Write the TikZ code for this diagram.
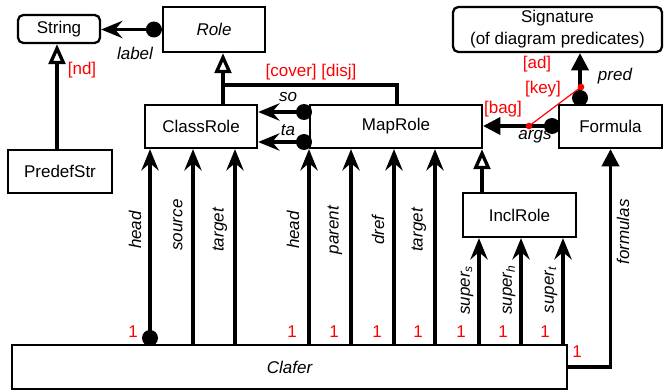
\documentclass[tikz,border=0pt]{standalone}
\usepackage{fontspec}
\setmainfont{Liberation Sans}
\usetikzlibrary{arrows.meta}
\newcommand\dfs{\fontsize{12.75}{15}\selectfont}
\begin{document}
\begin{tikzpicture}[x=0.75pt,y=-0.75pt,
  box/.style={draw, line width=1.7pt, fill=white, inner sep=0pt, font=\dfs},
  rbox/.style={box, rounded corners=4pt},
  conn/.style={line width=2.5pt},
  st/.style={conn, -{Stealth[length=16pt,width=13pt,inset=5.5pt]}},
  tri/.style={conn, -{Triangle[length=13pt,width=13pt]}},
  gen/.style={conn, -{Triangle[open,length=15pt,width=12.5pt,fill=white]}},
  lbl/.style={font=\dfs\itshape, inner sep=0pt},
  mult/.style={font=\dfs, text=red, inner sep=0pt},
  ball/.style={fill=black},
  rdot/.style={fill=red}
]
\useasboundingbox (0,0) rectangle (664,392);
% boxes
\node[rbox, minimum width=61.5pt, minimum height=21pt] (String) at (59,29) {String};
\node[box, minimum width=76.5pt, minimum height=33.75pt, font=\dfs\itshape] (Role) at (214,29.5) {Role};
\node[box, minimum width=78pt, minimum height=32.25pt] (PredefStr) at (60,171.5) {PredefStr};
\node[box, minimum width=84pt, minimum height=32.25pt] (ClassRole) at (201,126.5) {ClassRole};
\node[box, minimum width=129pt, minimum height=32.25pt] (MapRole) at (396,126.5) {MapRole};
\node[box, minimum width=77.25pt, minimum height=32.25pt] (Formula) at (610.5,126.5) {Formula};
\node[rbox, minimum width=156.75pt, minimum height=33.75pt, align=center, font={\fontsize{12.75}{16.5}\selectfont}] (Signature) at (557.5,29.5) {Signature\\(of diagram predicates)};
\node[box, minimum width=84.75pt, minimum height=33pt] (InclRole) at (519.5,215) {InclRole};
\node[box, minimum width=416.25pt, minimum height=33pt, font=\dfs\itshape] (Clafer) at (289.5,367) {Clafer};

% label
\draw[st] (Role.west) -- (Role.west -| String.east);
\fill[ball] ([xshift=-6pt]Role.west) circle (6pt);
\node[lbl] (lab) at (135,53) {label};
% PredefStr -> String
\draw[gen] (57,0 |- PredefStr.north) -- (57,0 |- String.south);
\node[mult] (nd) at (82,70) {[nd]};
% generalisation of roles
\coordinate (J) at (223,85);
\draw[conn] (397,0 |- MapRole.north) |- (J);
\draw[gen] (223,0 |- ClassRole.north) -- (223,0 |- Role.south);
\node[mult] (cd) at (311,72) {[cover] [disj]};
% so / ta
\draw[st] (310,112) -- (ClassRole.east |- 0,112);
\fill[ball] (304,112) circle (6pt);
\node[lbl] (so) at (288,97) {so};
\draw[st] (310,142) -- (ClassRole.east |- 0,142);
\fill[ball] (304,142) circle (6pt);
\node[lbl] (ta) at (288,130) {ta};
% ClassRole arrows
\foreach \x/\t/\ly in {150/head/230,193/source/225,235/target/230}{
  \draw[st] (\x,0 |- Clafer.north) -- (\x,0 |- ClassRole.south);
  \node[lbl, rotate=90] at (\x-15,\ly) {\t};
}
\fill[ball] (150,338) circle (6pt);
\node[mult] (m0) at (133,332) {1};
% MapRole arrows
\foreach \x/\t in {309/head,351/parent,394/dref,435/target}{
  \draw[st] (\x,0 |- Clafer.north) -- (\x,0 |- MapRole.south);
  \node[lbl, rotate=90] at (\x-16,230) {\t};
  \node[mult] at (\x-17,332) {1};
}
% InclRole arrows
\foreach \x/\s in {479/s,521/h,563/t}{
  \draw[st] (\x,0 |- Clafer.north) -- (\x,0 |- InclRole.south);
  \node[lbl, rotate=90] at (\x-12,290) {super\textsubscript{\s}};
  \node[mult] at (\x-18,332) {1};
}
% InclRole -> MapRole
\draw[gen] (482,0 |- InclRole.north) -- (482,0 |- MapRole.south);
% formulas
\draw[tri] (Clafer.east) -| (Formula.south);
\node[lbl, rotate=90] (fl) at (623,232) {formulas};
\node[mult] (m9) at (577,352) {1};
% pred
\draw[tri] (580,0 |- Formula.north) -- (580,0 |- Signature.south);
\fill[ball] (580,98) circle (6pt);
\node[lbl] (pred) at (615,76) {pred};
% args
\draw[tri] (Formula.west |- 0,126) -- (MapRole.east |- 0,126);
\fill[ball] (552,126) circle (6pt);
\node[lbl] (args) at (535,137) {args};
% red constraint line
\coordinate (r1) at (529,126);
\coordinate (r2) at (581,87);
\draw[red, line width=0.9pt] (r1) -- (r2);
\fill[rdot] (r1) circle (2.5pt);
\fill[rdot] (r2) circle (2.5pt);
\node[mult] (ad) at (537,64) {[ad]};
\node[mult] (key) at (543,89) {[key]};
\node[mult] (bag) at (503,109) {[bag]};
\end{tikzpicture}
\end{document}
